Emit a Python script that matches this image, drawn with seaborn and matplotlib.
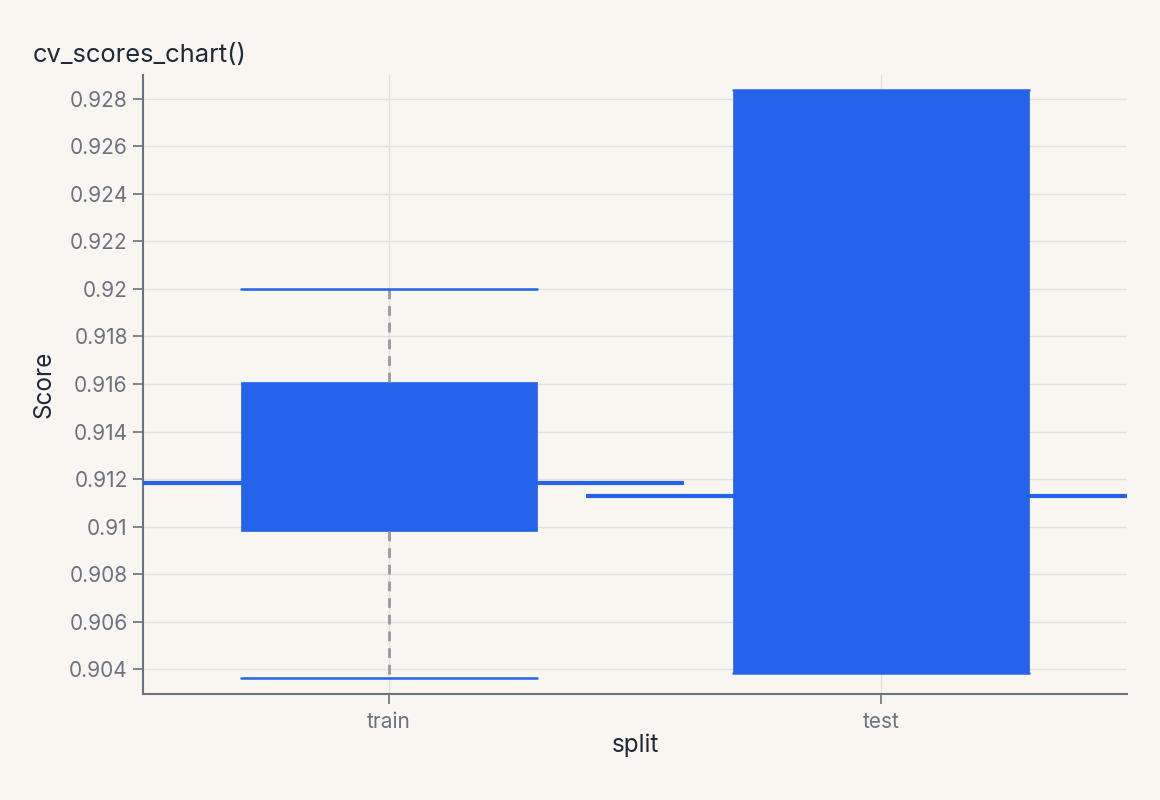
import numpy as np
import pandas as pd
import matplotlib
matplotlib.use("Agg")
import matplotlib.pyplot as plt
import seaborn as sns

# CV scores per fold
splits = ["train", "test"]
train_scores = [0.90362, 0.90981, 0.91183, 0.91608, 0.92002]
test_scores = [0.90383, 0.90383, 0.91128, 0.92837, 0.92837]
y_ticks = [0.904, 0.906, 0.908, 0.91, 0.912, 0.914, 0.916, 0.918,
           0.92, 0.922, 0.924, 0.926, 0.928]

df = pd.DataFrame({
    "split": ["train"] * len(train_scores) + ["test"] * len(test_scores),
    "Score": train_scores + test_scores,
})

blue = "#2563eb"
bg = "#f9f6f1"
axis_grey = "#6b7280"

sns.set_theme(style="whitegrid", rc={
    "figure.facecolor": bg,
    "axes.facecolor": bg,
    "grid.color": "#e3e0db",
    "grid.linewidth": 1,
    "axes.edgecolor": axis_grey,
})
plt.rcParams["font.family"] = ["Inter", "DejaVu Sans"]

fig = plt.figure(figsize=(11.6, 8), dpi=100)
ax = fig.add_axes([0.1233, 0.1325, 0.8483, 0.7738])

sns.boxplot(data=df, x="split", y="Score", order=splits, ax=ax,
            width=0.6, color=blue, saturation=1, whis=1.5, showfliers=False,
            capwidths=0.6,
            boxprops=dict(facecolor=blue, edgecolor=blue, linewidth=0.5),
            whiskerprops=dict(color="#949aa5", linestyle=(0, (3.5, 2.5)), linewidth=2),
            capprops=dict(color=blue, linewidth=1.8),
            medianprops=dict(linewidth=0))

# wide median lines
medians = df.groupby("split")["Score"].median()
for i, s in enumerate(splits):
    ax.hlines(medians[s], i - 0.6, i + 0.6, color=blue, linewidth=3, zorder=3)

ax.set_xlim(-0.5, 1.5)
ax.set_ylim(0.90295, 0.92901)
ax.set_yticks(y_ticks)
ax.set_yticklabels([f"{v:.3f}".rstrip("0") for v in y_ticks])
ax.grid(True, axis="both")

for side in ["top", "right"]:
    ax.spines[side].set_visible(False)
for side in ["left", "bottom"]:
    ax.spines[side].set_color(axis_grey)
    ax.spines[side].set_linewidth(1.5)

ax.tick_params(axis="both", colors=axis_grey, labelcolor=axis_grey,
               labelsize=15, length=7, width=1.2, direction="out",
               left=True, bottom=True, pad=4)
ax.tick_params(axis="x", pad=6)
ax.set_xlabel("split", fontsize=17.5, color="#1f2937", labelpad=1)
ax.set_ylabel("Score", fontsize=17.5, color="#1f2937", labelpad=10)
fig.text(0.028, 0.931, "cv_scores_chart()", fontsize=18.4, color="#1f2937",
         ha="left", va="center")

fig.savefig("out.png", dpi=100, facecolor=bg)
